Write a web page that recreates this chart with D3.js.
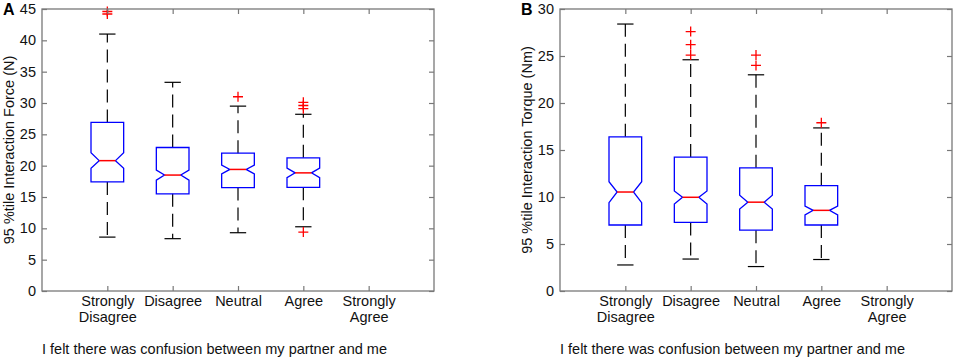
<!DOCTYPE html>
<html>
<head>
<meta charset="utf-8">
<script src="https://cdn.jsdelivr.net/npm/d3@7"></script>
<style>
  body { margin: 0; background: #fff; }
  svg { display: block; font-family: "Liberation Sans", Arial, sans-serif; }
</style>
</head>
<body>
<svg id="chart" width="957" height="360"></svg>
<script>
const categories = ['Strongly Disagree', 'Disagree', 'Neutral', 'Agree', 'Strongly Agree'];
const xTitle = 'I felt there was confusion between my partner and me';

// panel A - force (N); last category has no data
const forceWhiskerLow = [8.6, 8.35, 9.3, 10.25];
const forceQ1 = [17.4, 15.5, 16.5, 16.55];
const forceNotchLow = [19.6, 17.7, 18.7, 18.1];
const forceMedian = [20.8, 18.5, 19.4, 18.85];
const forceNotchHigh = [22.05, 19.3, 20.1, 19.6];
const forceQ3 = [26.9, 22.9, 22.0, 21.25];
const forceWhiskerHigh = [41.0, 33.3, 29.5, 28.2];
const forceOutliers = [[44.2, 44.6], [], [31.0], [30.1, 29.6, 29.1, 9.4]];
const forceTicks = [0, 5, 10, 15, 20, 25, 30, 35, 40, 45];

// panel B - torque (Nm)
const torqueWhiskerLow = [2.77, 3.4, 2.6, 3.35];
const torqueQ1 = [7.02, 7.3, 6.47, 7.02];
const torqueNotchLow = [9.4, 9.26, 8.72, 8.09];
const torqueMedian = [10.53, 9.97, 9.45, 8.58];
const torqueNotchHigh = [11.63, 10.64, 10.2, 9.04];
const torqueQ3 = [16.4, 14.25, 13.1, 11.2];
const torqueWhiskerHigh = [28.4, 24.6, 23.0, 17.35];
const torqueOutliers = [[], [25.1, 26.2, 27.6], [24.0, 25.1], [17.9]];
const torqueTicks = [0, 5, 10, 15, 20, 25, 30];

const svg = d3.select('#chart');
const axisColor = '#787878';
const textColor = '#111';
const fontSize = 14.5;

const makeBoxes = (wl, q1, nl, md, nh, q3, wh, out) =>
  q1.map((d, i) => ({
    pos: i + 1, wl: wl[i], q1: q1[i], nl: nl[i], md: md[i],
    nh: nh[i], q3: q3[i], wh: wh[i], out: out[i]
  }));

const drawPanel = (opts) => {
  const { left, right, top, bottom, yMax, ticks, boxes, yLabel, letter, letterX, yLabelX } = opts;
  const x = d3.scaleLinear().domain([0, 6]).range([left, right]);
  const y = d3.scaleLinear().domain([0, yMax]).range([bottom, top]);
  const g = svg.append('g');
  const half = 0.25;

  // boxes
  boxes.forEach(b => {
    const c = b.pos;
    // whiskers, drawn outward from the box
    g.append('line')
      .attr('x1', x(c)).attr('x2', x(c))
      .attr('y1', y(b.q3)).attr('y2', y(b.wh))
      .attr('stroke', '#000').attr('stroke-width', 1.2)
      .attr('stroke-dasharray', '13,7');
    g.append('line')
      .attr('x1', x(c)).attr('x2', x(c))
      .attr('y1', y(b.q1)).attr('y2', y(b.wl))
      .attr('stroke', '#000').attr('stroke-width', 1.2)
      .attr('stroke-dasharray', '13,7');
    [b.wh, b.wl].forEach(v => {
      g.append('line')
        .attr('x1', x(c - half / 2)).attr('x2', x(c + half / 2))
        .attr('y1', y(v)).attr('y2', y(v))
        .attr('stroke', '#000').attr('stroke-width', 1.2);
    });

    const pts = [
      [c - half, b.q3], [c + half, b.q3], [c + half, b.nh], [c + half / 2, b.md],
      [c + half, b.nl], [c + half, b.q1], [c - half, b.q1], [c - half, b.nl],
      [c - half / 2, b.md], [c - half, b.nh]
    ];
    g.append('path')
      .attr('d', d3.line().x(p => x(p[0])).y(p => y(p[1]))(pts) + 'Z')
      .attr('fill', 'none').attr('stroke', '#0000ff').attr('stroke-width', 1.3);
    g.append('line')
      .attr('x1', x(c - half / 2)).attr('x2', x(c + half / 2))
      .attr('y1', y(b.md)).attr('y2', y(b.md))
      .attr('stroke', '#ff0000').attr('stroke-width', 1.5);

    b.out.forEach(v => {
      g.append('path')
        .attr('d', `M${x(c) - 5},${y(v)}h10M${x(c)},${y(v) - 5}v10`)
        .attr('stroke', '#ff0000').attr('stroke-width', 1.3).attr('fill', 'none');
    });
  });

  // axes with inward ticks on all four sides
  const styleAxis = sel => {
    sel.attr('font-family', null);
    sel.select('.domain').remove();
    sel.selectAll('.tick line').attr('stroke', axisColor).attr('stroke-width', 1.2);
    sel.selectAll('.tick text').attr('fill', textColor).attr('font-size', fontSize);
  };

  g.append('g')
    .attr('transform', `translate(${left},0)`)
    .call(d3.axisLeft(y).tickValues(ticks).tickSizeInner(-5).tickSizeOuter(0).tickPadding(6))
    .call(styleAxis);

  g.append('g')
    .attr('transform', `translate(${right},0)`)
    .call(d3.axisRight(y).tickValues(ticks).tickSizeInner(-5).tickSizeOuter(0).tickFormat(''))
    .call(styleAxis);

  const xb = g.append('g')
    .attr('transform', `translate(0,${bottom})`)
    .call(d3.axisBottom(x).tickValues([1, 2, 3, 4, 5]).tickSizeInner(-5).tickSizeOuter(0).tickFormat(''))
    .call(styleAxis);

  g.append('g')
    .attr('transform', `translate(0,${top})`)
    .call(d3.axisTop(x).tickValues([1, 2, 3, 4, 5]).tickSizeInner(-5).tickSizeOuter(0).tickFormat(''))
    .call(styleAxis);

  xb.selectAll('.tick').each(function (d) {
    const words = categories[d - 1].split(' ');
    const t = d3.select(this).append('text')
      .attr('fill', textColor).attr('font-size', fontSize).attr('text-anchor', 'middle');
    words.forEach((w, i) => {
      t.append('tspan').attr('x', 0).attr('y', 15 + i * 15.5).text(w);
    });
  });

  g.append('rect')
    .attr('x', left).attr('y', top)
    .attr('width', right - left).attr('height', bottom - top)
    .attr('fill', 'none').attr('stroke', axisColor).attr('stroke-width', 1.3);

  g.append('text')
    .attr('x', left).attr('y', 354)
    .attr('fill', textColor).attr('font-size', fontSize)
    .text(xTitle);

  g.append('text')
    .attr('transform', `translate(${yLabelX},${(top + bottom) / 2}) rotate(-90)`)
    .attr('text-anchor', 'middle')
    .attr('fill', textColor).attr('font-size', fontSize)
    .text(yLabel);

  g.append('text')
    .attr('x', letterX).attr('y', 15)
    .attr('font-size', 16).attr('font-weight', 'bold').attr('fill', '#000')
    .text(letter);
};

drawPanel({
  left: 42, right: 434, top: 9, bottom: 291, yMax: 45, ticks: forceTicks,
  boxes: makeBoxes(forceWhiskerLow, forceQ1, forceNotchLow, forceMedian, forceNotchHigh, forceQ3, forceWhiskerHigh, forceOutliers),
  yLabel: '95 %tile Interaction Force (N)', letter: 'A', letterX: 3, yLabelX: 14
});

drawPanel({
  left: 560, right: 952, top: 9, bottom: 291, yMax: 30, ticks: torqueTicks,
  boxes: makeBoxes(torqueWhiskerLow, torqueQ1, torqueNotchLow, torqueMedian, torqueNotchHigh, torqueQ3, torqueWhiskerHigh, torqueOutliers),
  yLabel: '95 %tile Interaction Torque (Nm)', letter: 'B', letterX: 521, yLabelX: 532
});
</script>
</body>
</html>
